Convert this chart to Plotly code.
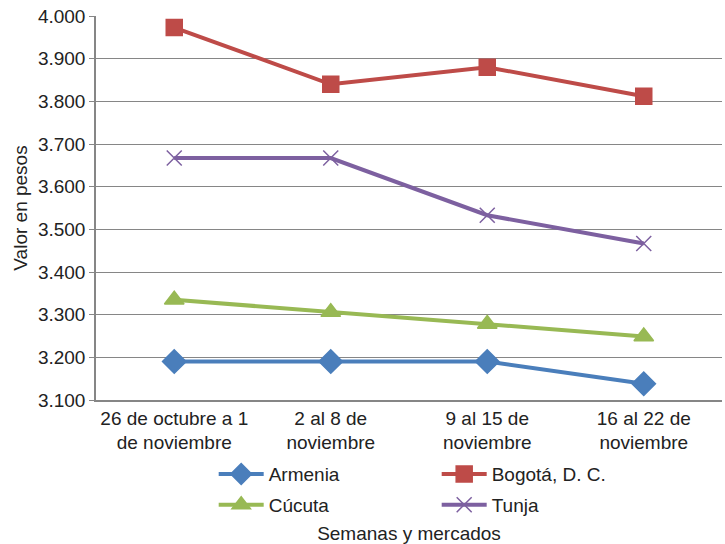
import plotly.graph_objects as go

categories = ["26 de octubre a 1<br>de noviembre", "2 al 8 de<br>noviembre",
              "9 al 15 de<br>noviembre", "16 al 22 de<br>noviembre"]
armenia = [3190, 3190, 3190, 3138]
bogota = [3973, 3840, 3880, 3812]
cucuta = [3335, 3306, 3278, 3249]
tunja = [3667, 3667, 3533, 3467]
y_ticks = [3100, 3200, 3300, 3400, 3500, 3600, 3700, 3800, 3900, 4000]

FONT = "Liberation Sans, Arial, sans-serif"
FS = 19

fig = go.Figure()
series = [
    ("Armenia", armenia, "#4A7EBB", "diamond", 18, "legend"),
    ("Bogotá, D. C.", bogota, "#BE4B48", "square", 16, "legend"),
    ("Cúcuta", cucuta, "#98B954", "triangle-up", 17, "legend2"),
    ("Tunja", tunja, "#7D60A0", "x-thin-open", 15, "legend2"),
]
for name, vals, col, sym, size, leg in series:
    fig.add_trace(go.Scatter(
        x=categories, y=vals, name=name, mode="lines+markers",
        line=dict(color=col, width=4),
        marker=dict(symbol=sym, size=size, color=col,
                    line=dict(color=col, width=1.5)),
        legend=leg,
    ))

legend_common = dict(orientation="h", xanchor="left", yanchor="middle",
                      entrywidth=163, entrywidthmode="pixels", itemwidth=45,
                      font=dict(family=FONT, size=FS, color="#222222"),
                      bgcolor="rgba(0,0,0,0)", traceorder="normal")

fig.update_layout(
    width=725, height=544,
    margin=dict(l=96, r=3, t=16, b=144),
    paper_bgcolor="white", plot_bgcolor="white",
    separators=",.",
    font=dict(family=FONT, size=FS, color="#222222"),
    showlegend=True,
    legend=dict(x=0.188, y=-0.193, **legend_common),
    legend2=dict(x=0.188, y=-0.273, **legend_common),
    xaxis=dict(
        title=dict(text="Semanas y mercados", font=dict(size=FS), standoff=74),
        range=[-0.5, 3.5],
        showgrid=False, showline=True, linecolor="#868686", linewidth=1.5,
        ticks="", tickfont=dict(size=FS), automargin=False,
    ),
    yaxis=dict(
        title=dict(text="Valor en pesos", font=dict(size=FS), standoff=5),
        range=[3100, 4000], tickvals=y_ticks, tickformat=",d",
        showgrid=True, gridcolor="#868686", gridwidth=1.3,
        showline=True, linecolor="#868686", linewidth=1.5,
        ticks="outside", ticklen=5, tickcolor="#868686",
        tickfont=dict(size=FS), zeroline=False, automargin=False,
    ),
)

fig.write_html("out.html", config={"displayModeBar": False},
               post_script="document.body.style.margin='0';")
